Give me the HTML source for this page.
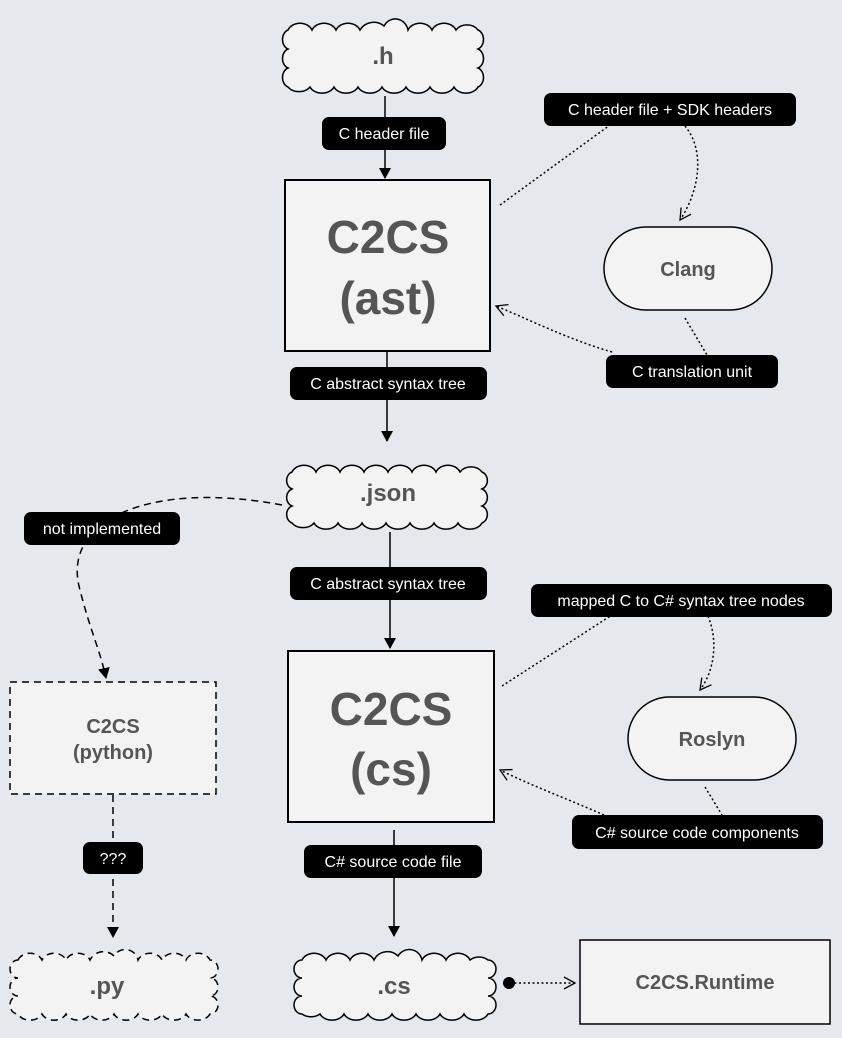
<!DOCTYPE html>
<html><head><meta charset="utf-8"><style>
html,body{margin:0;padding:0;background:#e5e9ed;}
svg{display:block;font-family:"Liberation Sans",sans-serif;}
.lb{fill:#000;}
.lt{fill:#fff;font-size:16px;text-anchor:middle;}
.nt{fill:#555;font-weight:bold;text-anchor:middle;}
</style></head><body>
<svg width="842" height="1038" viewBox="0 0 842 1038" xmlns="http://www.w3.org/2000/svg">
<defs>
<marker id="a" markerWidth="12" markerHeight="12" refX="10" refY="6" orient="auto" markerUnits="userSpaceOnUse"><path d="M0,0 L11,6 L0,12 Z" fill="#000"/></marker>
<marker id="o" markerWidth="14" markerHeight="14" refX="12" refY="7" orient="auto" markerUnits="userSpaceOnUse"><path d="M1,1 L12,7 L1,13" fill="none" stroke="#000" stroke-width="1.3"/></marker>
</defs>
<g stroke="#000" stroke-width="2" fill="#f3f3f3">
<!-- .h cloud -->
<path d="M288,30 a13,11 0 0 1 24,0 a13,11 0 0 1 24,0 a13,11 0 0 1 24,0 a16,16 0 0 1 24,-4 a13,14 0 0 1 24,4 a13,11 0 0 1 24,0 a13,11 0 0 1 24,0 a13,11 0 0 1 22,0 a8,10 0 0 1 0,19 a8,10 0 0 1 0,19 a8,10 0 0 1 0,19 a13,10 0 0 1 -24,0 a13,10 0 0 1 -24,0 a13,10 0 0 1 -24,0 a13,10 0 0 1 -24,0 a13,10 0 0 1 -24,0 a13,10 0 0 1 -24,0 a13,10 0 0 1 -24,0 a13,10 0 0 1 -22,0 a8,10 0 0 1 0,-19 a8,10 0 0 1 0,-19 a8,10 0 0 1 0,-19 Z" stroke-width="1.5"/>
<!-- .json cloud -->
<path d="M292,472 a13,11 0 0 1 24,0 a13,11 0 0 1 24,0 a13,11 0 0 1 24,0 a13,11 0 0 1 24,0 a13,11 0 0 1 24,0 a13,11 0 0 1 24,0 a13,11 0 0 1 24,0 a13,11 0 0 1 22,0 a8,9 0 0 1 0,17 a8,9 0 0 1 0,17 a8,9 0 0 1 0,17 a13,10 0 0 1 -24,0 a13,10 0 0 1 -24,0 a13,10 0 0 1 -24,0 a13,10 0 0 1 -24,0 a13,10 0 0 1 -24,0 a13,10 0 0 1 -24,0 a13,10 0 0 1 -24,0 a13,10 0 0 1 -22,0 a8,9 0 0 1 0,-17 a8,9 0 0 1 0,-17 a8,9 0 0 1 0,-17 Z" stroke-width="1.5"/>
<!-- .cs cloud -->
<path d="M302,960 a13,11 0 0 1 24,0 a13,11 0 0 1 24,0 a13,11 0 0 1 24,0 a15,15 0 0 1 24,-4 a13,13 0 0 1 24,4 a13,11 0 0 1 24,0 a13,11 0 0 1 24,0 a13,11 0 0 1 18,0 a8,9 0 0 1 0,18 a8,9 0 0 1 0,18 a8,9 0 0 1 0,18 a13,10 0 0 1 -24,0 a13,10 0 0 1 -24,0 a13,10 0 0 1 -24,0 a13,10 0 0 1 -24,0 a13,10 0 0 1 -24,0 a13,10 0 0 1 -24,0 a13,10 0 0 1 -24,0 a13,10 0 0 1 -18,0 a8,9 0 0 1 0,-18 a8,9 0 0 1 0,-18 a8,9 0 0 1 0,-18 Z" stroke-width="1.5"/>
<!-- .py cloud dashed -->
<path d="M18,960 a13,11 0 0 1 24,0 a13,11 0 0 1 24,0 a13,11 0 0 1 24,0 a15,15 0 0 1 24,-4 a13,13 0 0 1 24,4 a13,11 0 0 1 24,0 a13,11 0 0 1 24,0 a13,11 0 0 1 24,0 a8,9 0 0 1 0,18 a8,9 0 0 1 0,18 a8,9 0 0 1 0,18 a13,10 0 0 1 -24,0 a13,10 0 0 1 -24,0 a13,10 0 0 1 -24,0 a13,10 0 0 1 -24,0 a13,10 0 0 1 -24,0 a13,10 0 0 1 -24,0 a13,10 0 0 1 -24,0 a13,10 0 0 1 -24,0 a8,9 0 0 1 0,-18 a8,9 0 0 1 0,-18 a8,9 0 0 1 0,-18 Z" stroke-width="1.5" stroke-dasharray="7,5"/>
<rect x="285" y="180" width="205" height="171"/>
<rect x="288" y="651" width="206" height="171"/>
<rect x="604" y="227" width="168" height="83" rx="41.5" stroke-width="1.5"/>
<rect x="628" y="697" width="168" height="83" rx="41.5" stroke-width="1.5"/>
<rect x="10" y="682" width="206" height="112" stroke-width="1.5" stroke-dasharray="7,5"/>
<rect x="580" y="940" width="250" height="84" stroke-width="1.5"/>
</g>
<!-- connectors -->
<g fill="none" stroke="#000" stroke-width="1.5">
<line x1="385" y1="96" x2="385" y2="178" marker-end="url(#a)"/>
<line x1="387" y1="352" x2="387" y2="441" marker-end="url(#a)"/>
<line x1="390" y1="532" x2="390" y2="648" marker-end="url(#a)"/>
<line x1="394" y1="830" x2="394" y2="936" marker-end="url(#a)"/>
<path d="M282,505 C150,480 60,520 80,590 C90,630 100,650 106,678" stroke-dasharray="7,5" marker-end="url(#a)"/>
<line x1="113" y1="795" x2="113" y2="937" stroke-dasharray="7,5" marker-end="url(#a)"/>
<g stroke-dasharray="2,2.5">
<line x1="500" y1="205" x2="610" y2="125"/>
<path d="M685,126 C705,150 700,190 680,220" marker-end="url(#o)"/>
<line x1="685" y1="318" x2="707" y2="355"/>
<path d="M612,352 C570,340 530,320 496,306" marker-end="url(#o)"/>
<line x1="502" y1="686" x2="612" y2="615"/>
<path d="M708,616 C718,640 715,670 700,690" marker-end="url(#o)"/>
<line x1="705" y1="787" x2="722" y2="815"/>
<path d="M604,815 C570,800 530,785 500,770" marker-end="url(#o)"/>
<line x1="510" y1="983" x2="575" y2="983" marker-end="url(#o)"/>
</g>
</g>
<circle cx="509" cy="983" r="6" fill="#000"/>
<!-- labels -->
<rect class="lb" x="322" y="117" width="124" height="33" rx="7"/><text class="lt" x="384" y="139">C header file</text>
<rect class="lb" x="544" y="93" width="252" height="33" rx="7"/><text class="lt" x="670" y="115">C header file + SDK headers</text>
<rect class="lb" x="606" y="355" width="172" height="33" rx="7"/><text class="lt" x="692" y="377">C translation unit</text>
<rect class="lb" x="290" y="367" width="197" height="33" rx="7"/><text class="lt" x="388" y="389">C abstract syntax tree</text>
<rect class="lb" x="24" y="512" width="156" height="33" rx="7"/><text class="lt" x="102" y="534">not implemented</text>
<rect class="lb" x="290" y="567" width="197" height="33" rx="7"/><text class="lt" x="388" y="589">C abstract syntax tree</text>
<rect class="lb" x="531" y="584" width="301" height="33" rx="7"/><text class="lt" x="681" y="606">mapped C to C# syntax tree nodes</text>
<rect class="lb" x="572" y="815" width="251" height="34" rx="7"/><text class="lt" x="697" y="838">C# source code components</text>
<rect class="lb" x="83" y="842" width="60" height="32" rx="7"/><text class="lt" x="113" y="864">???</text>
<rect class="lb" x="304" y="845" width="178" height="33" rx="7"/><text class="lt" x="393" y="867">C# source code file</text>
<!-- node text -->
<text class="nt" x="383" y="64" font-size="24">.h</text>
<text class="nt" x="388" y="253" font-size="46">C2CS</text>
<text class="nt" x="388" y="314" font-size="46">(ast)</text>
<text class="nt" x="688" y="276" font-size="20">Clang</text>
<text class="nt" x="388" y="501" font-size="24">.json</text>
<text class="nt" x="391" y="725" font-size="46">C2CS</text>
<text class="nt" x="391" y="785" font-size="46">(cs)</text>
<text class="nt" x="712" y="746" font-size="20">Roslyn</text>
<text class="nt" x="113" y="733" font-size="20">C2CS</text>
<text class="nt" x="113" y="759" font-size="20">(python)</text>
<text class="nt" x="107" y="994" font-size="24">.py</text>
<text class="nt" x="394" y="994" font-size="24">.cs</text>
<text class="nt" x="705" y="989" font-size="20">C2CS.Runtime</text>
</svg>
</body></html>
